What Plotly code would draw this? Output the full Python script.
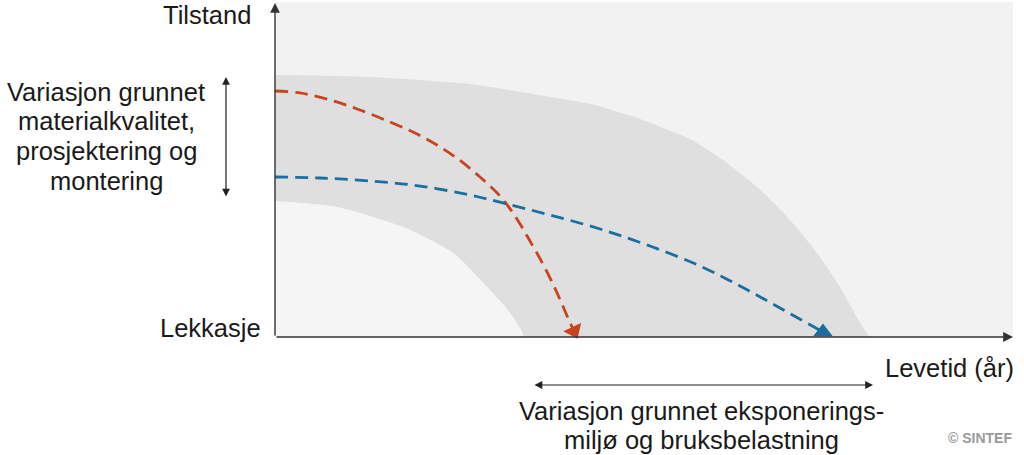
import plotly.graph_objects as go

# ---- data (x: lifetime 0-100, y: condition 0-100) ----
red_x = [0, 3.39, 7.45, 11.52, 15.58, 18.97, 21.95, 24.80, 27.78, 30.49, 32.52, 34.55, 36.59, 38.35, 39.70, 40.51]
red_y = [73.43, 72.84, 70.75, 67.76, 64.18, 60.90, 57.31, 53.13, 47.76, 42.09, 36.12, 28.66, 20.60, 12.54, 5.67, 1.79]

blue_x = [0, 6.10, 12.87, 19.65, 26.42, 31.44, 37.26, 44.04, 50.81, 57.59, 63.01, 68.43, 74.25]
blue_y = [47.76, 47.46, 46.57, 45.07, 42.39, 39.70, 36.42, 32.24, 27.16, 21.19, 15.22, 8.66, 1.49]

outer_x = [0, 12.87, 26.42, 35.91, 42.68, 49.46, 56.23, 60.70, 65.31, 69.78, 73.44, 76.56, 79.27, 80.35]
outer_y = [78.2, 77.6, 75.5, 72.2, 69.6, 65.1, 59.1, 52.8, 44.8, 34.9, 25.1, 14.9, 4.2, 0]

inner_x = [0, 8.40, 17.34, 24.12, 28.73, 31.84, 33.60]
inner_y = [40.6, 38.8, 32.8, 25.1, 14.9, 7.2, 0]

y_label_top = "Tilstand"
y_label_bottom = "Lekkasje"
x_label = "Levetid (år)"
left_text = ["Variasjon grunnet", "materialkvalitet,", "prosjektering og", "montering"]
bottom_text = ["Variasjon grunnet eksponerings-", "miljø og bruksbelastning"]
credit = "© SINTEF"

FONT = "Liberation Sans, Arial, sans-serif"
RED = "#c8441f"
BLUE = "#1c6e9e"

W, H = 1024, 455
ML, MR, MT, MB = 275, 11, 2, 118
PW, PH = W - ML - MR, H - MT - MB


def px(xp):
    return (xp - ML) / PW


def py(yp):
    return (H - MB - yp) / PH


fig = go.Figure()

# band
band_x = outer_x + inner_x[::-1]
band_y = outer_y + inner_y[::-1]
fig.add_trace(go.Scatter(x=band_x, y=band_y, fill="toself", mode="lines",
                         line=dict(width=0, shape="spline", smoothing=0.6), fillcolor="#dfdfdf",
                         hoverinfo="skip", showlegend=False))
# inner light area
fig.add_trace(go.Scatter(x=inner_x + [0], y=inner_y + [0], fill="toself", mode="lines",
                         line=dict(width=0, shape="spline", smoothing=0.6), fillcolor="#f5f5f5",
                         hoverinfo="skip", showlegend=False))

# curves
fig.add_trace(go.Scatter(x=red_x, y=red_y, mode="lines",
                         line=dict(color=RED, width=2.8, dash="13px,7px", shape="spline"),
                         showlegend=False, hoverinfo="skip"))
fig.add_trace(go.Scatter(x=red_x[-2:], y=red_y[-2:], mode="markers",
                         marker=dict(symbol="triangle-up", size=17, color=RED,
                                     opacity=[0, 1], angleref="previous"),
                         showlegend=False, hoverinfo="skip", cliponaxis=False))
fig.add_trace(go.Scatter(x=blue_x, y=blue_y, mode="lines",
                         line=dict(color=BLUE, width=2.8, dash="13px,7px", shape="spline"),
                         showlegend=False, hoverinfo="skip"))
fig.add_trace(go.Scatter(x=blue_x[-1:], y=blue_y[-1:], mode="markers",
                         marker=dict(symbol="triangle-up", size=17, color=BLUE, angle=0),
                         showlegend=False, hoverinfo="skip", cliponaxis=False))

ann = []
AX = "#333333"
# y axis arrow
ann.append(dict(xref="paper", yref="paper", x=0, y=py(3), ax=0, ay=334,
                text="", showarrow=True, arrowhead=2, arrowsize=1.4,
                arrowwidth=1.4, arrowcolor=AX))
# x axis arrow
ann.append(dict(xref="paper", yref="paper", x=px(1013), y=0, ax=-738, ay=0,
                text="", showarrow=True, arrowhead=2, arrowsize=1.4,
                arrowwidth=1.4, arrowcolor=AX))
# left double arrow
ann.append(dict(xref="paper", yref="paper", x=px(226), y=py(77), ax=0, ay=121,
                text="", showarrow=True, arrowhead=2, startarrowhead=2,
                arrowside="end+start", arrowsize=1.3, startarrowsize=1.3,
                arrowwidth=1.2, arrowcolor="#222"))
# bottom double arrow
ann.append(dict(xref="paper", yref="paper", x=px(873), y=py(385), ax=-340, ay=0,
                text="", showarrow=True, arrowhead=2, startarrowhead=2,
                arrowside="end+start", arrowsize=1.3, startarrowsize=1.3,
                arrowwidth=1.2, arrowcolor="#222"))

TXT = dict(family=FONT, size=25.5, color="#1a1a1a")
ann.append(dict(xref="paper", yref="paper", x=px(253), y=py(15), text=y_label_top,
                showarrow=False, xanchor="right", yanchor="middle", font=TXT))
ann.append(dict(xref="paper", yref="paper", x=px(263), y=py(328), text=y_label_bottom,
                showarrow=False, xanchor="right", yanchor="middle", font=TXT))
ann.append(dict(xref="paper", yref="paper", x=px(1016), y=py(368), text=x_label,
                showarrow=False, xanchor="right", yanchor="middle", font=TXT))
for i, t in enumerate(left_text):
    ann.append(dict(xref="paper", yref="paper", x=px(106), y=py(92 + i * 29.5), text=t,
                    showarrow=False, xanchor="center", yanchor="middle", font=TXT))
for i, t in enumerate(bottom_text):
    ann.append(dict(xref="paper", yref="paper", x=px(701), y=py(411 + i * 28.5), text=t,
                    showarrow=False, xanchor="center", yanchor="middle", font=TXT))
ann.append(dict(xref="paper", yref="paper", x=px(1014), y=py(438), text="<b>" + credit + "</b>",
                showarrow=False, xanchor="right", yanchor="middle",
                font=dict(family=FONT, size=14, color="#9a9a9a")))

fig.update_layout(
    width=W, height=H,
    margin=dict(l=ML, r=MR, t=MT, b=MB, pad=0),
    paper_bgcolor="white", plot_bgcolor="#f2f2f2",
    xaxis=dict(range=[0, 100], visible=False, fixedrange=True),
    yaxis=dict(range=[0, 100], visible=False, fixedrange=True),
    annotations=ann,
    showlegend=False,
)

fig.write_html("out.html", config={"displayModeBar": False},
               post_script="document.body.style.margin='0px';document.body.style.overflow='hidden';")
